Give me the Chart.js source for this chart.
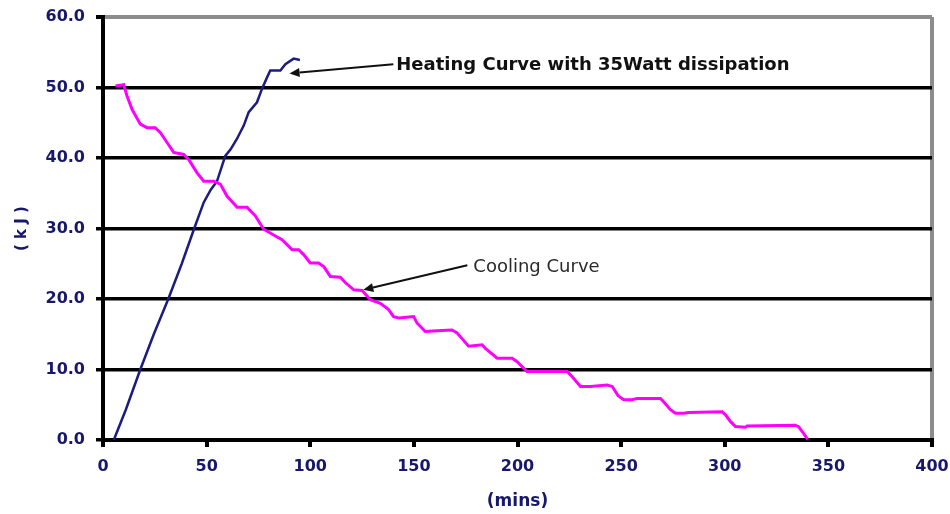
<!DOCTYPE html>
<html>
<head>
<meta charset="utf-8">
<script src="https://cdn.jsdelivr.net/npm/chart.js@4/dist/chart.umd.min.js"></script>
<style>
  html, body { margin: 0; padding: 0; background: #ffffff; }
  #wrap { width: 950px; height: 514px; }
</style>
</head>
<body>
<div id="wrap"><canvas id="c" width="950" height="514"></canvas></div>
<script>
// Heating curve: stored energy (kJ) against time (mins)
const heatMins = [5.2, 11, 18, 24.5, 31.5, 38, 44, 48.6, 52, 55, 59, 61.5, 64.6, 67.9, 70.3, 74.3, 76.7, 79.1, 80.7, 85.6, 88, 92, 95];
const heatKJ   = [0, 4.3, 10, 15, 20, 25, 30, 33.7, 35.5, 36.7, 40.3, 41.2, 42.7, 44.6, 46.5, 47.9, 49.8, 51.4, 52.4, 52.4, 53.3, 54.1, 53.9];

// Cooling curve: stored energy (kJ) against time (mins)
const coolMins = [6, 10, 11.6, 14, 18, 21.2, 25.2, 27.7, 30.9, 34.1, 38.9, 41.3, 45.4, 48.6, 53.4, 56.6, 59.8, 64.7, 69.5, 73.5, 77.5, 84, 86.4, 91.2, 94.4, 96.8, 100, 104, 106.5, 109.7, 114.5, 117, 121, 125, 129, 133.8, 137.8, 140.2, 142.7, 149.9, 151.5, 155.5, 161.2, 168.4, 170.8, 176.4, 182.9, 184.5, 190.2, 197.4, 199.8, 204.6, 211, 224, 226.3, 230.4, 235.2, 243.2, 245.7, 248.5, 251.2, 255.3, 257.7, 269, 270.6, 273.8, 276.2, 280.2, 282.6, 298.7, 300.3, 302.8, 305.2, 310, 310.8, 334, 335.6, 338.1, 340];
const coolKJ   = [50.2, 50.4, 48.8, 46.9, 44.8, 44.3, 44.3, 43.6, 42.2, 40.8, 40.5, 39.8, 37.9, 36.7, 36.7, 36.3, 34.6, 33, 33, 31.8, 29.9, 28.8, 28.4, 27, 27, 26.3, 25.1, 25.1, 24.6, 23.2, 23.1, 22.3, 21.3, 21.2, 19.9, 19.4, 18.5, 17.5, 17.3, 17.5, 16.6, 15.4, 15.5, 15.6, 15.2, 13.3, 13.5, 13, 11.6, 11.6, 11.1, 9.7, 9.7, 9.7, 9, 7.6, 7.6, 7.8, 7.6, 6.3, 5.7, 5.7, 5.9, 5.9, 5.4, 4.3, 3.8, 3.8, 3.9, 4.0, 3.6, 2.6, 1.9, 1.8, 2.0, 2.1, 1.9, 0.9, 0.1];

// Axis ticks
const xTicks = [0, 50, 100, 150, 200, 250, 300, 350, 400];
const yTicks = [0, 10, 20, 30, 40, 50, 60];

const NAVY = '#17176b';
const toPoints = (xs, ys) => xs.map((x, i) => ({ x: x, y: ys[i] }));

// Callout labels with arrows, anchored in data coordinates
const callouts = [
  { text: 'Heating Curve with 35Watt dissipation', font: 'bold 18px "DejaVu Sans"', color: '#111111',
    textAt: [141.5, 52.5], from: [140.1, 53.3], to: [90.0, 52.0] },
  { text: 'Cooling Curve', font: '18px "DejaVu Sans"', color: '#2a2a2a',
    textAt: [178.7, 23.9], from: [175.8, 24.8], to: [125.6, 21.3] }
];

const calloutPlugin = {
  id: 'callouts',
  afterDatasetsDraw(chart) {
    const { ctx, scales: { x, y } } = chart;
    ctx.save();
    callouts.forEach(c => {
      const fx = x.getPixelForValue(c.from[0]), fy = y.getPixelForValue(c.from[1]);
      const tx = x.getPixelForValue(c.to[0]),   ty = y.getPixelForValue(c.to[1]);
      const ang = Math.atan2(ty - fy, tx - fx);
      const head = 10, half = 4.5;
      const bx = tx - head * Math.cos(ang), by = ty - head * Math.sin(ang);
      ctx.strokeStyle = '#111111';
      ctx.lineWidth = 2;
      ctx.beginPath();
      ctx.moveTo(fx, fy);
      ctx.lineTo(bx, by);
      ctx.stroke();
      ctx.fillStyle = '#111111';
      ctx.beginPath();
      ctx.moveTo(tx, ty);
      ctx.lineTo(bx + half * Math.sin(ang), by - half * Math.cos(ang));
      ctx.lineTo(bx - half * Math.sin(ang), by + half * Math.cos(ang));
      ctx.closePath();
      ctx.fill();
      ctx.font = c.font;
      ctx.fillStyle = c.color;
      ctx.textAlign = 'left';
      ctx.textBaseline = 'alphabetic';
      ctx.fillText(c.text, x.getPixelForValue(c.textAt[0]), y.getPixelForValue(c.textAt[1]));
    });
    ctx.restore();
  }
};

new Chart(document.getElementById('c'), {
  type: 'line',
  data: {
    datasets: [
      { label: 'Cooling Curve', data: toPoints(coolMins, coolKJ), borderColor: '#ff00ff', borderWidth: 3,
        pointRadius: 0, tension: 0, fill: false },
      { label: 'Heating Curve', data: toPoints(heatMins, heatKJ), borderColor: '#1c1c80', borderWidth: 2.5,
        pointRadius: 0, tension: 0, fill: false }
    ]
  },
  options: {
    responsive: false,
    animation: false,
    layout: { padding: { top: 17, right: 18, left: 12, bottom: 0 } },
    plugins: { legend: { display: false }, tooltip: { enabled: false } },
    scales: {
      x: {
        type: 'linear', min: 0, max: 400,
        afterBuildTicks: s => { s.ticks = xTicks.map(v => ({ value: v })); },
        afterFit: s => { s.height = 74; s.paddingLeft = 0; s.paddingRight = 0; },
        border: { color: '#000000', width: 4 },
        grid: {
          drawOnChartArea: true, drawTicks: true, tickLength: 7, lineWidth: 4,
          color: c => (c.tick && c.tick.value === 400) ? '#8c8c8c' : 'rgba(0,0,0,0)',
          tickColor: '#000000'
        },
        ticks: { color: NAVY, padding: 10, font: { family: 'DejaVu Sans', weight: 'bold', size: 16 }, maxRotation: 0 },
        title: { display: true, text: '(mins)', color: NAVY, padding: 0,
                 font: { family: 'DejaVu Sans', weight: 'bold', size: 17, lineHeight: 1.5 } }
      },
      y: {
        type: 'linear', min: 0, max: 60,
        afterBuildTicks: s => { s.ticks = yTicks.map(v => ({ value: v })); },
        afterFit: s => { s.width = 91; s.paddingTop = 0; s.paddingBottom = 0; },
        border: { color: '#000000', width: 4 },
        grid: {
          drawTicks: true, tickLength: 7,
          lineWidth: c => (c.tick && c.tick.value === 60) ? 4 : 3.5,
          color: c => (c.tick && c.tick.value === 60) ? '#8c8c8c' : '#000000',
          tickColor: '#000000'
        },
        ticks: { color: NAVY, padding: 11, font: { family: 'DejaVu Sans', weight: 'bold', size: 16 },
                 callback: v => Number(v).toFixed(1) },
        title: { display: true, text: '( k J )', color: NAVY, padding: 0,
                 font: { family: 'DejaVu Sans', weight: 'bold', size: 15, lineHeight: 1.35 } }
      }
    }
  },
  plugins: [calloutPlugin]
});
</script>
</body>
</html>
